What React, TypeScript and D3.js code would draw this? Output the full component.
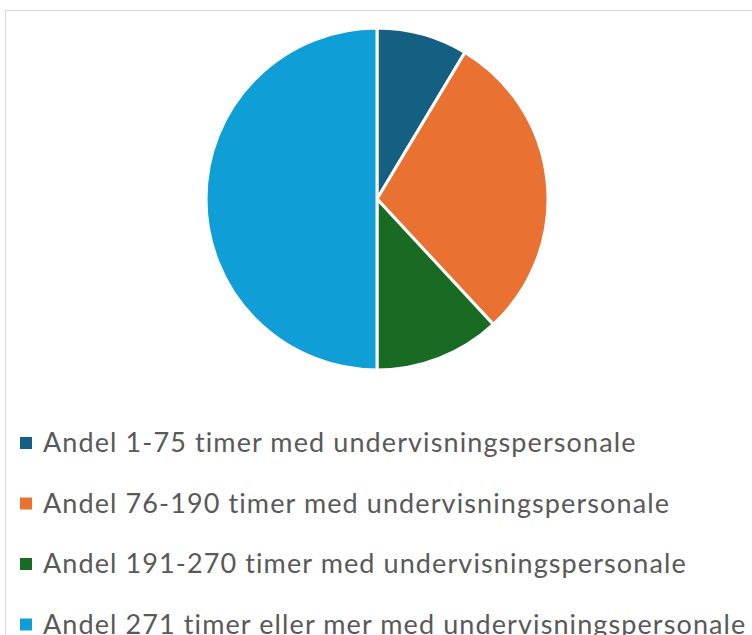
import React, { useEffect, useRef } from "react";
import * as d3 from "d3";

const categories = [
  "Andel 1-75 timer med undervisningspersonale",
  "Andel 76-190 timer med undervisningspersonale",
  "Andel 191-270 timer med undervisningspersonale",
  "Andel 271 timer eller mer med undervisningspersonale",
];
const values = [8.6, 29.5, 11.9, 50.0];
const colors = ["#156082", "#E97132", "#196B24", "#0F9ED5"];

export default function App() {
  const ref = useRef<SVGSVGElement | null>(null);
  useEffect(() => {
    const svg = d3.select(ref.current);
    svg.selectAll("*").remove();
    const W = 752, H = 635;
    svg.append("rect").attr("x", 0).attr("y", 0).attr("width", W).attr("height", H).attr("fill", "#fff");
    svg.append("rect").attr("x", 5.5).attr("y", 10.5).attr("width", W + 10).attr("height", H + 10)
      .attr("fill", "#fff").attr("stroke", "#d9d9d9").attr("stroke-width", 1);

    const cx = 377, cy = 199, r = 171;
    const pie = d3.pie<number>().sort(null).value((d) => d);
    const arc = d3.arc<d3.PieArcDatum<number>>().innerRadius(0).outerRadius(r);
    const g = svg.append("g").attr("transform", `translate(${cx},${cy})`);
    g.selectAll("path").data(pie(values)).enter().append("path")
      .attr("d", arc as any)
      .attr("fill", (_d, i) => colors[i])
      .attr("stroke", "#fff").attr("stroke-width", 3).attr("stroke-linejoin", "round");

    const leg = svg.append("g");
    const y0 = 452, dy = 60.5;
    categories.forEach((c, i) => {
      const y = y0 + i * dy;
      leg.append("rect").attr("x", 20).attr("y", y - 15).attr("width", 12).attr("height", 12).attr("fill", colors[i]);
      leg.append("text").attr("x", 43).attr("y", y).text(c)
        .attr("font-family", "Lato, 'Open Sans', sans-serif").attr("font-size", 27)
        .attr("letter-spacing", 1.1).attr("fill", "#595959");
    });
  }, []);
  return (
    <svg ref={ref} width={752} height={635} style={{ position: "absolute", left: 0, top: 0, display: "block" }} />
  );
}
